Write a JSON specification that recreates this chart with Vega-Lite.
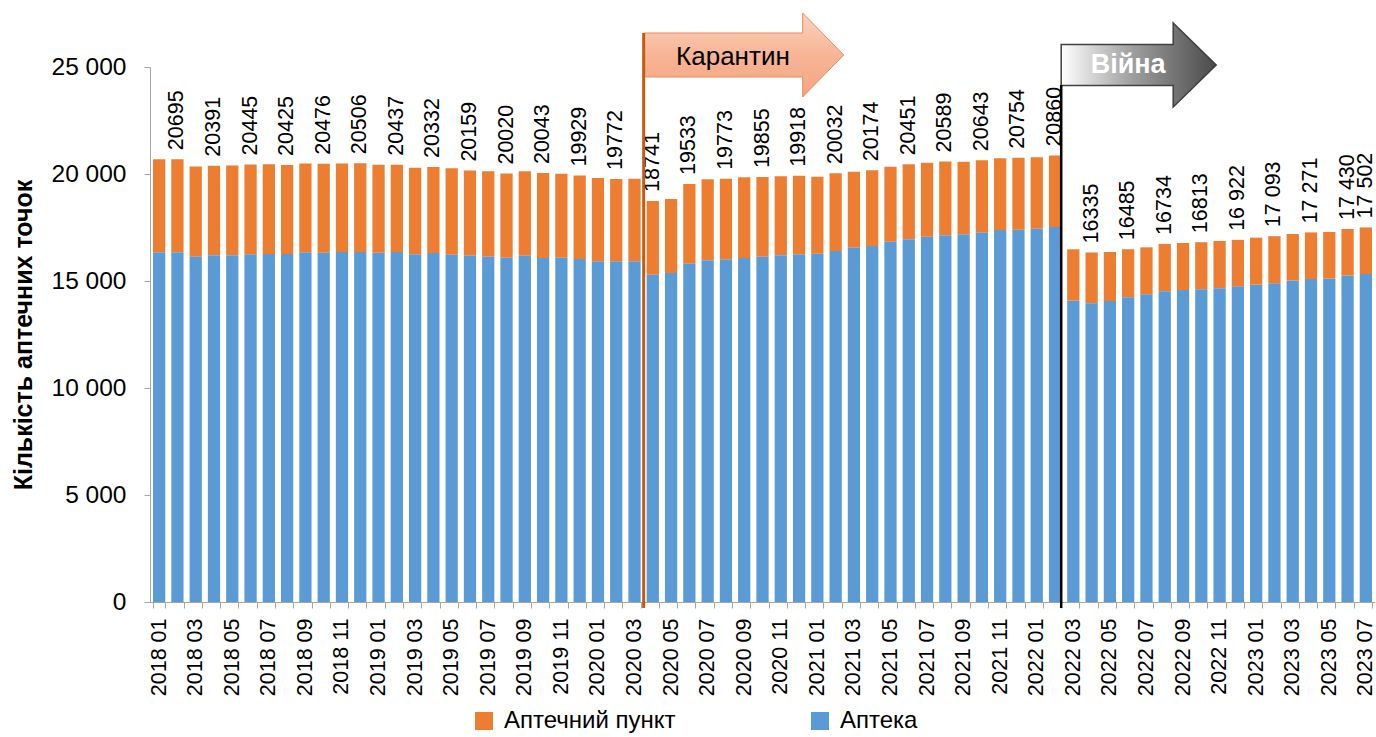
{
  "$schema": "https://vega.github.io/schema/vega-lite/v6.json",
  "width": 1225,
  "height": 535,
  "autosize": {"type": "none"},
  "padding": {"left": 150, "top": 67, "right": 1, "bottom": 135},
  "background": "white",
  "config": {"view": {"stroke": null}, "font": "Liberation Sans"},
  "datasets": {
    "months": [
      {"m": "2018 01", "Аптека": 16340, "Аптечний пункт": 4350, "total": 20690, "label": ""},
      {"m": "2018 02", "Аптека": 16340, "Аптечний пункт": 4355, "total": 20695, "label": "20695"},
      {"m": "2018 03", "Аптека": 16137, "Аптечний пункт": 4208, "total": 20345, "label": ""},
      {"m": "2018 04", "Аптека": 16200, "Аптечний пункт": 4191, "total": 20391, "label": "20391"},
      {"m": "2018 05", "Аптека": 16200, "Аптечний пункт": 4200, "total": 20400, "label": ""},
      {"m": "2018 06", "Аптека": 16246, "Аптечний пункт": 4199, "total": 20445, "label": "20445"},
      {"m": "2018 07", "Аптека": 16262, "Аптечний пункт": 4188, "total": 20450, "label": ""},
      {"m": "2018 08", "Аптека": 16262, "Аптечний пункт": 4163, "total": 20425, "label": "20425"},
      {"m": "2018 09", "Аптека": 16340, "Аптечний пункт": 4155, "total": 20495, "label": ""},
      {"m": "2018 10", "Аптека": 16324, "Аптечний пункт": 4152, "total": 20476, "label": "20476"},
      {"m": "2018 11", "Аптека": 16355, "Аптечний пункт": 4140, "total": 20495, "label": ""},
      {"m": "2018 12", "Аптека": 16355, "Аптечний пункт": 4151, "total": 20506, "label": "20506"},
      {"m": "2019 01", "Аптека": 16324, "Аптечний пункт": 4112, "total": 20436, "label": ""},
      {"m": "2019 02", "Аптека": 16355, "Аптечний пункт": 4082, "total": 20437, "label": "20437"},
      {"m": "2019 03", "Аптека": 16246, "Аптечний пункт": 4050, "total": 20296, "label": ""},
      {"m": "2019 04", "Аптека": 16308, "Аптечний пункт": 4024, "total": 20332, "label": "20332"},
      {"m": "2019 05", "Аптека": 16230, "Аптечний пункт": 4035, "total": 20265, "label": ""},
      {"m": "2019 06", "Аптека": 16184, "Аптечний пункт": 3975, "total": 20159, "label": "20159"},
      {"m": "2019 07", "Аптека": 16137, "Аптечний пункт": 3988, "total": 20125, "label": ""},
      {"m": "2019 08", "Аптека": 16090, "Аптечний пункт": 3930, "total": 20020, "label": "20020"},
      {"m": "2019 09", "Аптека": 16184, "Аптечний пункт": 3941, "total": 20125, "label": ""},
      {"m": "2019 10", "Аптека": 16070, "Аптечний пункт": 3973, "total": 20043, "label": "20043"},
      {"m": "2019 11", "Аптека": 16090, "Аптечний пункт": 3926, "total": 20016, "label": ""},
      {"m": "2019 12", "Аптека": 16028, "Аптечний пункт": 3901, "total": 19929, "label": "19929"},
      {"m": "2020 01", "Аптека": 15919, "Аптечний пункт": 3894, "total": 19813, "label": ""},
      {"m": "2020 02", "Аптека": 15919, "Аптечний пункт": 3853, "total": 19772, "label": "19772"},
      {"m": "2020 03", "Аптека": 15919, "Аптечний пункт": 3863, "total": 19782, "label": ""},
      {"m": "2020 04", "Аптека": 15296, "Аптечний пункт": 3445, "total": 18741, "label": "18741"},
      {"m": "2020 05", "Аптека": 15374, "Аптечний пункт": 3456, "total": 18830, "label": ""},
      {"m": "2020 06", "Аптека": 15810, "Аптечний пункт": 3723, "total": 19533, "label": "19533"},
      {"m": "2020 07", "Аптека": 15966, "Аптечний пункт": 3785, "total": 19751, "label": ""},
      {"m": "2020 08", "Аптека": 16012, "Аптечний пункт": 3761, "total": 19773, "label": "19773"},
      {"m": "2020 09", "Аптека": 16075, "Аптечний пункт": 3769, "total": 19844, "label": ""},
      {"m": "2020 10", "Аптека": 16137, "Аптечний пункт": 3718, "total": 19855, "label": "19855"},
      {"m": "2020 11", "Аптека": 16200, "Аптечний пункт": 3691, "total": 19891, "label": ""},
      {"m": "2020 12", "Аптека": 16246, "Аптечний пункт": 3672, "total": 19918, "label": "19918"},
      {"m": "2021 01", "Аптека": 16277, "Аптечний пункт": 3598, "total": 19875, "label": ""},
      {"m": "2021 02", "Аптека": 16402, "Аптечний пункт": 3630, "total": 20032, "label": "20032"},
      {"m": "2021 03", "Аптека": 16550, "Аптечний пункт": 3559, "total": 20109, "label": ""},
      {"m": "2021 04", "Аптека": 16636, "Аптечний пункт": 3538, "total": 20174, "label": "20174"},
      {"m": "2021 05", "Аптека": 16830, "Аптечний пункт": 3513, "total": 20343, "label": ""},
      {"m": "2021 06", "Аптека": 16947, "Аптечний пункт": 3504, "total": 20451, "label": "20451"},
      {"m": "2021 07", "Аптека": 17072, "Аптечний пункт": 3458, "total": 20530, "label": ""},
      {"m": "2021 08", "Аптека": 17134, "Аптечний пункт": 3455, "total": 20589, "label": "20589"},
      {"m": "2021 09", "Аптека": 17181, "Аптечний пункт": 3395, "total": 20576, "label": ""},
      {"m": "2021 10", "Аптека": 17258, "Аптечний пункт": 3385, "total": 20643, "label": "20643"},
      {"m": "2021 11", "Аптека": 17383, "Аптечний пункт": 3349, "total": 20732, "label": ""},
      {"m": "2021 12", "Аптека": 17399, "Аптечний пункт": 3355, "total": 20754, "label": "20754"},
      {"m": "2022 01", "Аптека": 17446, "Аптечний пункт": 3333, "total": 20779, "label": ""},
      {"m": "2022 02", "Аптека": 17523, "Аптечний пункт": 3337, "total": 20860, "label": "20860"},
      {"m": "2022 03", "Аптека": 14081, "Аптечний пункт": 2400, "total": 16481, "label": ""},
      {"m": "2022 04", "Аптека": 13956, "Аптечний пункт": 2379, "total": 16335, "label": "16335"},
      {"m": "2022 05", "Аптека": 14065, "Аптечний пункт": 2290, "total": 16355, "label": ""},
      {"m": "2022 06", "Аптека": 14237, "Аптечний пункт": 2248, "total": 16485, "label": "16485"},
      {"m": "2022 07", "Аптека": 14377, "Аптечний пункт": 2197, "total": 16574, "label": ""},
      {"m": "2022 08", "Аптека": 14517, "Аптечний пункт": 2217, "total": 16734, "label": "16734"},
      {"m": "2022 09", "Аптека": 14579, "Аптечний пункт": 2197, "total": 16776, "label": ""},
      {"m": "2022 10", "Аптека": 14611, "Аптечний пункт": 2202, "total": 16813, "label": "16813"},
      {"m": "2022 11", "Аптека": 14657, "Аптечний пункт": 2212, "total": 16869, "label": ""},
      {"m": "2022 12", "Аптека": 14751, "Аптечний пункт": 2171, "total": 16922, "label": "16 922"},
      {"m": "2023 01", "Аптека": 14829, "Аптечний пункт": 2196, "total": 17025, "label": ""},
      {"m": "2023 02", "Аптека": 14891, "Аптечний пункт": 2202, "total": 17093, "label": "17 093"},
      {"m": "2023 03", "Аптека": 15016, "Аптечний пункт": 2180, "total": 17196, "label": ""},
      {"m": "2023 04", "Аптека": 15093, "Аптечний пункт": 2178, "total": 17271, "label": "17 271"},
      {"m": "2023 05", "Аптека": 15109, "Аптечний пункт": 2181, "total": 17290, "label": ""},
      {"m": "2023 06", "Аптека": 15249, "Аптечний пункт": 2181, "total": 17430, "label": "17 430"},
      {"m": "2023 07", "Аптека": 15327, "Аптечний пункт": 2175, "total": 17502, "label": "17 502"}
    ]
  },
  "layer": [
    {
      "data": {"name": "months"},
      "transform": [{"fold": ["Аптечний пункт", "Аптека"], "as": ["type", "value"]}],
      "mark": {"type": "bar"},
      "encoding": {
        "x": {
          "field": "m", "type": "ordinal",
          "scale": {"paddingInner": 0.33, "paddingOuter": 0.165},
          "axis": {
            "title": null, "labelAngle": 270, "labelFontSize": 21.5, "labelColor": "black",
            "labelExpr": "toNumber(slice(datum.label, 5)) % 2 == 1 ? datum.label : ''",
            "labelOverlap": false, "tickBand": "extent", "tickSize": 6,
            "tickColor": "#a6a6a6", "domainColor": "#a6a6a6", "labelPadding": 10, "labelBound": false
          }
        },
        "y": {
          "field": "value", "type": "quantitative", "stack": "zero",
          "scale": {"domain": [0, 25000], "nice": false},
          "axis": {
            "title": "Кількість аптечних точок", "titleFontSize": 25, "titleFontWeight": "bold",
            "titleColor": "black", "titlePadding": 15,
            "values": [0, 5000, 10000, 15000, 20000, 25000],
            "labelExpr": "replace(format(datum.value, ','), ',', ' ')",
            "labelFontSize": 24.5, "labelColor": "black", "labelPadding": 18,
            "grid": false, "tickSize": 6, "tickColor": "#a6a6a6", "domainColor": "#a6a6a6"
          }
        },
        "color": {
          "field": "type", "type": "nominal",
          "scale": {"domain": ["Аптечний пункт", "Аптека"], "range": ["#ed7d31", "#5b9bd5"]},
          "legend": {
            "orient": "none", "legendX": 322, "legendY": 642, "direction": "horizontal", "title": null,
            "symbolType": "square", "symbolSize": 324, "symbolStrokeWidth": 0, "padding": 0,
            "labelFontSize": 24, "labelColor": "black", "columnPadding": 132, "labelOffset": 8,
            "labelLimit": 400
          }
        },
        "order": {"field": "type", "sort": "ascending"}
      }
    },
    {
      "data": {"name": "months"},
      "mark": {"type": "text", "angle": 270, "align": "left", "baseline": "middle", "dx": 9, "fontSize": 21.5, "color": "black"},
      "encoding": {
        "x": {"field": "m", "type": "ordinal"},
        "y": {"field": "total", "type": "quantitative", "scale": {"domain": [0, 25000], "nice": false}},
        "text": {"field": "label"}
      }
    },
    {
      "data": {"values": [{}]},
      "mark": {
        "type": "point", "shape": "M0,-0.22L1.59,-0.22L1.59,-0.42L2,0L1.59,0.42L1.59,0.22L0,0.22Z",
        "size": 40000, "filled": true, "opacity": 1,
        "fill": {"gradient": "linear", "x1": 0, "y1": 0, "x2": 0, "y2": 1,
          "stops": [{"offset": 0, "color": "#fbd3bf"}, {"offset": 0.5, "color": "#f7b596"}, {"offset": 1, "color": "#f4a47d"}]},
        "stroke": "#ea8a60", "strokeWidth": 1, "xOffset": -3
      },
      "encoding": {
        "x": {"datum": "2020 04", "type": "ordinal", "bandPosition": 0},
        "y": {"datum": 25561, "type": "quantitative", "scale": {"domain": [0, 25000], "nice": false}}
      }
    },
    {
      "data": {"values": [{}]},
      "mark": {"type": "rule", "color": "#c55a11", "strokeWidth": 3, "xOffset": -3},
      "encoding": {
        "x": {"datum": "2020 04", "type": "ordinal", "bandPosition": 0},
        "y": {"datum": 26589, "type": "quantitative", "scale": {"domain": [0, 25000], "nice": false}},
        "y2": {"datum": -280}
      }
    },
    {
      "data": {"values": [{}]},
      "mark": {"type": "text", "fontSize": 26, "color": "black", "dx": 7, "baseline": "middle", "align": "center", "text": "Карантин"},
      "encoding": {
        "x": {"datum": "2020 08", "type": "ordinal"},
        "y": {"datum": 25470, "type": "quantitative", "scale": {"domain": [0, 25000], "nice": false}}
      }
    },
    {
      "data": {"values": [{}]},
      "mark": {
        "type": "point", "shape": "M0,-0.205L1.12,-0.205L1.12,-0.42L1.55,0L1.12,0.42L1.12,0.205L0,0.205Z",
        "size": 40000, "filled": true, "opacity": 1,
        "fill": {"gradient": "linear", "x1": 0, "y1": 0, "x2": 1, "y2": 0,
          "stops": [{"offset": 0, "color": "#ffffff"}, {"offset": 0.45, "color": "#a0a0a0"}, {"offset": 1, "color": "#4a4a4a"}]},
        "stroke": "#404040", "strokeWidth": 1.5, "xOffset": -6
      },
      "encoding": {
        "x": {"datum": "2022 03", "type": "ordinal", "bandPosition": 0},
        "y": {"datum": 25093, "type": "quantitative", "scale": {"domain": [0, 25000], "nice": false}}
      }
    },
    {
      "data": {"values": [{}]},
      "mark": {"type": "rule", "color": "black", "strokeWidth": 2.5, "xOffset": -6},
      "encoding": {
        "x": {"datum": "2022 03", "type": "ordinal", "bandPosition": 0},
        "y": {"datum": 24159, "type": "quantitative", "scale": {"domain": [0, 25000], "nice": false}},
        "y2": {"datum": -280}
      }
    },
    {
      "data": {"values": [{}]},
      "mark": {"type": "text", "fontSize": 27, "fontWeight": "bold", "color": "white", "baseline": "middle", "align": "center", "text": "Війна"},
      "encoding": {
        "x": {"datum": "2022 06", "type": "ordinal"},
        "y": {"datum": 25093, "type": "quantitative", "scale": {"domain": [0, 25000], "nice": false}}
      }
    }
  ]
}
